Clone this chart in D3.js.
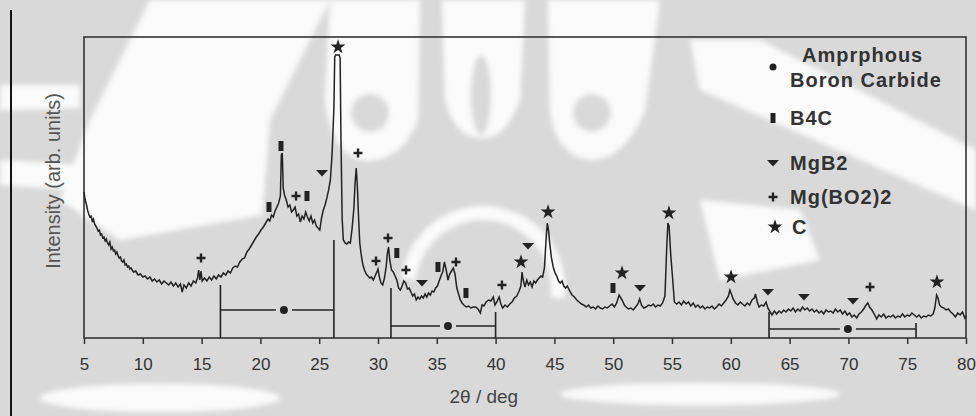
<!DOCTYPE html>
<html>
<head>
<meta charset="utf-8">
<script src="https://cdn.jsdelivr.net/npm/d3@7"></script>
<style>
  html, body { margin: 0; padding: 0; background: #d9d9d9; }
  svg { display: block; font-family: Arial, 'Liberation Sans', sans-serif; }
</style>
</head>
<body>
<div id="chart"></div>
<script>
'use strict';

// XRD pattern, [ 2theta (deg), intensity (arb. units) ]
var pattern = [
  [5.00,146],[5.10,138],[5.20,134],[5.30,128],[5.40,124],[5.50,121],[5.60,122],[5.70,117],[5.80,119],[5.90,114],
  [6.00,112],[6.10,110],[6.20,107],[6.30,108],[6.40,103],[6.50,104],[6.60,100],[6.70,101],[6.80,97],[6.90,99],
  [7.00,95],[7.10,93],[7.20,96],[7.30,89],[7.40,91],[7.50,87],[7.60,88],[7.70,84],[7.80,86],[7.90,82],
  [8.00,80],[8.10,81],[8.20,77],[8.30,76],[8.40,78],[8.50,73],[8.60,74],[8.70,71],[8.80,72],[8.90,69],
  [9.00,70],[9.20,66],[9.40,67],[9.60,63],[9.80,64],[10.00,61],[10.20,62],[10.40,59],[10.60,61],[10.80,57],
  [11.00,59],[11.20,56],[11.40,58],[11.60,54],[11.80,57],[12.00,55],[12.20,53],[12.40,56],[12.60,52],[12.80,55],
  [13.00,51],[13.20,54],[13.35,46],[13.50,53],[13.70,50],[13.90,55],[14.10,52],[14.30,57],[14.50,55],[14.65,60],
  [14.75,68],[14.85,58],[14.95,67],[15.05,57],[15.25,60],[15.45,57],[15.65,61],[15.85,58],[16.05,62],[16.25,59],
  [16.45,63],[16.65,61],[16.85,65],[17.05,63],[17.25,67],[17.45,65],[17.65,70],[17.85,72],[18.05,71],[18.25,76],
  [18.45,79],[18.65,80],[18.85,86],[19.05,89],[19.25,93],[19.45,97],[19.65,101],[19.85,104],[20.05,108],[20.25,111],
  [20.45,115],[20.65,119],[20.80,117],[20.95,123],[21.10,121],[21.25,127],[21.40,131],[21.55,135],[21.70,142],[21.78,183],
  [21.86,185],[21.94,150],[22.05,143],[22.20,138],[22.35,131],[22.50,133],[22.65,126],[22.80,128],[22.95,131],[23.10,122],
  [23.25,124],[23.40,116],[23.55,122],[23.70,119],[23.85,126],[24.00,121],[24.15,117],[24.30,122],[24.45,115],[24.60,118],
  [24.75,112],[24.90,110],[25.05,108],[25.20,120],[25.35,128],[25.50,133],[25.65,140],[25.80,148],[25.95,158],[26.10,185],
  [26.25,230],[26.32,281],[26.40,283],[26.70,283],[26.78,280],[26.85,200],[26.95,120],[27.05,98],[27.20,95],[27.35,94],[27.50,96],
  [27.65,95],[27.80,110],[27.95,130],[28.05,155],[28.15,170],[28.25,150],[28.35,120],[28.45,95],[28.55,85],[28.70,74],
  [28.85,68],[29.00,64],[29.15,62],[29.30,60],[29.45,61],[29.60,58],[29.75,62],[29.90,66],[30.00,69],[30.10,62],
  [30.25,55],[30.40,53],[30.55,60],[30.70,72],[30.80,85],[30.90,91],[31.00,78],[31.15,68],[31.30,66],[31.45,62],
  [31.60,58],[31.75,50],[31.90,48],[32.05,52],[32.20,57],[32.35,55],[32.50,49],[32.65,50],[32.80,46],[32.95,42],
  [33.10,44],[33.25,38],[33.40,41],[33.55,39],[33.70,42],[33.85,40],[34.00,44],[34.15,41],[34.30,45],[34.45,43],
  [34.60,47],[34.75,46],[34.90,50],[35.05,52],[35.20,57],[35.35,62],[35.50,66],[35.65,76],[35.80,68],[35.95,58],
  [36.10,64],[36.25,67],[36.40,70],[36.55,64],[36.70,50],[36.85,44],[37.00,38],[37.15,35],[37.30,33],[37.50,31],
  [37.70,32],[37.90,30],[38.10,31],[38.30,31],[38.50,29],[38.70,25],[38.85,33],[39.00,32],[39.20,36],[39.40,38],
  [39.60,37],[39.80,41],[39.95,33],[40.10,36],[40.30,41],[40.45,34],[40.60,30],[40.80,33],[41.00,31],[41.20,34],
  [41.40,36],[41.60,40],[41.80,42],[42.00,47],[42.15,52],[42.25,66],[42.35,58],[42.50,51],[42.65,58],[42.80,53],
  [42.95,56],[43.10,51],[43.25,57],[43.40,55],[43.55,58],[43.70,60],[43.85,62],[44.00,61],[44.15,70],[44.30,100],
  [44.40,115],[44.50,108],[44.60,95],[44.75,80],[44.90,71],[45.05,65],[45.20,62],[45.35,57],[45.50,55],[45.65,57],
  [45.80,52],[45.95,50],[46.10,52],[46.30,47],[46.50,43],[46.70,41],[46.90,38],[47.10,36],[47.30,34],[47.50,33],
  [47.70,31],[47.90,33],[48.10,30],[48.30,31],[48.50,29],[48.70,32],[48.90,30],[49.10,29],[49.30,31],[49.50,30],
  [49.70,32],[49.90,34],[50.10,31],[50.30,35],[50.50,43],[50.65,40],[50.80,37],[50.95,33],[51.10,31],[51.30,29],
  [51.50,30],[51.70,28],[51.90,31],[52.10,34],[52.25,39],[52.40,33],[52.60,30],[52.80,31],[53.00,33],[53.20,32],
  [53.40,34],[53.60,31],[53.80,33],[54.00,32],[54.20,35],[54.40,42],[54.55,90],[54.65,115],[54.75,112],[54.90,82],
  [55.05,60],[55.20,36],[55.40,34],[55.60,36],[55.80,33],[56.00,37],[56.20,34],[56.40,36],[56.60,32],[56.80,35],
  [57.00,31],[57.20,33],[57.40,30],[57.60,32],[57.80,29],[58.00,31],[58.20,30],[58.40,32],[58.60,29],[58.80,31],
  [59.00,34],[59.20,32],[59.40,35],[59.60,38],[59.80,42],[59.92,48],[60.05,44],[60.20,39],[60.40,35],[60.60,33],
  [60.80,36],[61.00,34],[61.20,32],[61.40,35],[61.60,33],[61.80,38],[62.00,40],[62.10,44],[62.25,36],[62.40,31],
  [62.60,33],[62.80,32],[63.00,36],[63.15,30],[63.35,26],[63.50,23],[63.70,27],[63.90,24],[64.10,27],[64.30,25],
  [64.50,28],[64.70,26],[64.90,29],[65.10,27],[65.30,30],[65.50,26],[65.70,29],[65.90,27],[66.10,31],[66.30,28],
  [66.50,30],[66.70,27],[66.90,29],[67.10,26],[67.30,28],[67.50,25],[67.70,27],[67.90,24],[68.10,28],[68.30,26],
  [68.50,27],[68.70,25],[68.90,29],[69.10,26],[69.30,28],[69.50,24],[69.70,27],[69.90,23],[70.10,25],[70.30,21],
  [70.50,23],[70.70,20],[70.90,24],[71.10,26],[71.30,29],[71.50,33],[71.65,35],[71.80,31],[72.00,28],[72.20,24],
  [72.40,19],[72.60,23],[72.80,21],[73.00,24],[73.20,20],[73.40,22],[73.60,21],[73.80,23],[74.00,20],[74.20,22],
  [74.40,21],[74.60,24],[74.80,21],[75.00,23],[75.20,22],[75.40,25],[75.60,23],[75.80,21],[76.00,23],[76.20,20],
  [76.40,22],[76.60,21],[76.80,23],[77.00,22],[77.20,24],[77.35,30],[77.50,43],[77.62,40],[77.75,33],[77.90,31],
  [78.10,30],[78.30,28],[78.50,29],[78.70,26],[78.90,24],[79.10,21],[79.30,25],[79.50,23],[79.70,26],[79.90,20],
  [80.00,22]
];

// phase markers, [ 2theta, marker height ]
var carbonPeaks = [ [26.6,291], [42.16,76], [44.46,126], [50.75,65], [54.74,125], [60.02,61], [77.53,56] ];
var b4cPeaks = [ [20.73,131], [21.75,192], [23.96,142], [31.6,85], [35.1,71], [37.48,45], [49.98,50] ];
var mgb2Peaks = [ [25.24,165], [33.74,55], [42.76,92], [52.28,50], [63.16,46], [66.22,41], [70.39,37] ];
var mgbo2Peaks = [ [14.95,80], [23.03,142], [28.3,185], [29.83,77], [30.85,100], [32.38,68], [36.63,76], [40.54,53], [71.84,51] ];

// amorphous boron carbide humps
var amorphousFrom = [ 16.6, 31.1, 63.25 ];
var amorphousTo = [ 26.25, 40.0, 75.75 ];
var amorphousMid = [ 22.0, 35.95, 69.96 ];
var amorphousLevel = [ 28, 12, 9 ];
var amorphousLeftTop = [ 53, 50, 26 ];
var amorphousRightTop = [ 98, 26, 15 ];

var xTicks = [ 5, 10, 15, 20, 25, 30, 35, 40, 45, 50, 55, 60, 65, 70, 75, 80 ];
var legendLabels = [ 'Amprphous', 'Boron Carbide', 'B4C', 'MgB2', 'Mg(BO2)2', 'C' ];

var baseWidth = 976,
    baseHeight = 416,
    margin = { top: 37, right: 10, bottom: 78, left: 84 },
    width = baseWidth - margin.left - margin.right,
    height = baseHeight - margin.top - margin.bottom,
    ink = '#222',
    paper = '#fafafa',
    shade = '#d9d9d9';

var x = d3.scaleLinear()
    .domain( [ 5, 80 ] )
    .range( [ 0, width ] );

var y = d3.scaleLinear()
    .domain( [ 0, height ] )
    .range( [ height, 0 ] );

var root = d3.select( '#chart' )
  .append( 'svg' )
    .attr( 'width', baseWidth )
    .attr( 'height', baseHeight );

// faint logo watermark behind the figure
root.append( 'defs' ).append( 'filter' )
    .attr( 'id', 'soft' )
  .append( 'feGaussianBlur' )
    .attr( 'stdDeviation', 2.5 );

var wm = root.append( 'g' ).attr( 'fill', paper ).attr( 'filter', 'url(#soft)' );
wm.append( 'rect' ).attr( 'width', baseWidth ).attr( 'height', baseHeight ).attr( 'fill', shade );
wm.append( 'path' ).attr( 'd', 'M150,0L330,0L300,60L270,120L262,215L120,240L60,200L90,120Z' );
wm.append( 'path' ).attr( 'd', 'M330,0L420,0L418,120Q400,165 360,160Q330,150 325,100Z' );
wm.append( 'path' ).attr( 'd', 'M442,0L525,0L520,100Q505,140 482,138Q455,138 445,100Z' );
wm.append( 'path' ).attr( 'd', 'M548,0L660,0L645,110Q625,160 590,160Q555,155 550,110Z' );
wm.append( 'circle' ).attr( 'cx', 370 ).attr( 'cy', 113 ).attr( 'r', 19 ).attr( 'fill', shade );
wm.append( 'ellipse' ).attr( 'cx', 481 ).attr( 'cy', 95 ).attr( 'rx', 10 ).attr( 'ry', 40 ).attr( 'fill', shade );
wm.append( 'circle' ).attr( 'cx', 592 ).attr( 'cy', 113 ).attr( 'r', 19 ).attr( 'fill', shade );
wm.append( 'path' )
    .attr( 'd', d3.arc()( { innerRadius: 68, outerRadius: 82, startAngle: -1.45, endAngle: 1.7 } ) )
    .attr( 'transform', 'translate(483,288)' );
wm.append( 'path' ).attr( 'd', 'M690,40L760,40L976,150L976,210L700,90Z' );
wm.append( 'path' ).attr( 'd', 'M700,200L800,210L820,260L720,280Z' );
wm.append( 'path' ).attr( 'd', 'M0,85L80,85L80,108L0,110Z' );
wm.append( 'path' ).attr( 'd', 'M0,160L80,165L80,190L0,185Z' );
wm.append( 'ellipse' ).attr( 'cx', 160 ).attr( 'cy', 398 ).attr( 'rx', 120 ).attr( 'ry', 14 );
wm.append( 'ellipse' ).attr( 'cx', 700 ).attr( 'cy', 394 ).attr( 'rx', 140 ).attr( 'ry', 11 );

// thin rule at far left
root.append( 'line' )
    .attr( 'x1', 11 ).attr( 'x2', 11 )
    .attr( 'y1', 10 ).attr( 'y2', baseHeight )
    .style( 'stroke', '#111' )
    .style( 'stroke-width', 2 );

var svg = root.append( 'g' )
    .attr( 'transform', 'translate( ' + margin.left + ',' + margin.top + ' )' );

// plot frame
svg.append( 'rect' )
    .attr( 'width', width )
    .attr( 'height', height )
    .style( 'fill', 'none' )
    .style( 'stroke', '#333' )
    .style( 'stroke-width', 1.6 );

// Add the X Axis
var xAxis = svg.append( 'g' )
    .attr( 'transform', 'translate(0,' + height + ')' )
    .call( d3.axisBottom( x )
      .tickValues( xTicks )
      .tickSize( 6 )
      .tickSizeOuter( 0 )
      .tickPadding( 14 )
    );
xAxis.select( '.domain' ).remove();
xAxis.selectAll( 'line' ).style( 'stroke', '#333' ).style( 'stroke-width', 1.5 );
xAxis.selectAll( 'text' )
    .style( 'font-size', '17px' )
    .style( 'fill', '#333' )
    .attr( 'font-family', 'Arial, Liberation Sans, sans-serif' );

// axis titles
svg.append( 'text' )
    .attr( 'x', x( 39 ) )
    .attr( 'y', height + 65 )
    .attr( 'text-anchor', 'middle' )
    .style( 'font-size', '19px' )
    .style( 'fill', '#444' )
    .text( '2θ / deg' );

svg.append( 'text' )
    .attr( 'transform', 'rotate(-90)' )
    .attr( 'x', -( 181 - margin.top ) )
    .attr( 'y', -24 )
    .attr( 'text-anchor', 'middle' )
    .style( 'font-size', '20px' )
    .style( 'fill', '#555' )
    .text( 'Intensity (arb. units)' );

// the pattern itself
var line = d3.line()
    .x( function( d ) { return x( d[0] ); } )
    .y( function( d ) { return y( d[1] ); } );

svg.append( 'path' )
    .attr( 'd', line( pattern ) )
    .style( 'fill', 'none' )
    .style( 'stroke', ink )
    .style( 'stroke-width', 1.5 )
    .style( 'stroke-linejoin', 'miter' );

// amorphous humps: bar, dot, bar
amorphousFrom.forEach( function( from, i ) {
  var g = svg.append( 'g' ).style( 'stroke', ink ).style( 'stroke-width', 1.6 );
  var ly = y( amorphousLevel[i] );
  g.append( 'line' ).attr( 'x1', x( from ) ).attr( 'x2', x( from ) )
    .attr( 'y1', y( amorphousLeftTop[i] ) ).attr( 'y2', height );
  g.append( 'line' ).attr( 'x1', x( amorphousTo[i] ) ).attr( 'x2', x( amorphousTo[i] ) )
    .attr( 'y1', y( amorphousRightTop[i] ) ).attr( 'y2', height );
  g.append( 'line' ).attr( 'x1', x( from ) ).attr( 'x2', x( amorphousMid[i] ) - 8 )
    .attr( 'y1', ly ).attr( 'y2', ly );
  g.append( 'line' ).attr( 'x1', x( amorphousMid[i] ) + 8 ).attr( 'x2', x( amorphousTo[i] ) )
    .attr( 'y1', ly ).attr( 'y2', ly );
  svg.append( 'circle' )
    .attr( 'cx', x( amorphousMid[i] ) ).attr( 'cy', ly ).attr( 'r', 4 )
    .style( 'fill', ink );
} );

// marker shapes
var starPath = d3.symbol().type( d3.symbolStar ).size( 68 )(),
    trianglePath = 'M-6,-3L6,-3L0,3.5Z',
    barPath = 'M-2.5,-5L2.5,-5L2.5,5L-2.5,5Z',
    plusPath = 'M-1.2,-4.5H1.2V-1.2H4.5V1.2H1.2V4.5H-1.2V1.2H-4.5V-1.2H-1.2Z';

function drawMarkers( peaks, path ) {
  svg.selectAll( null )
    .data( peaks )
    .enter()
    .append( 'path' )
      .attr( 'd', path )
      .attr( 'transform', function( d ) {
        return 'translate(' + x( d[0] ) + ',' + y( d[1] ) + ')';
      } )
      .style( 'fill', ink );
}

drawMarkers( carbonPeaks, starPath );
drawMarkers( b4cPeaks, barPath );
drawMarkers( mgb2Peaks, trianglePath );
drawMarkers( mgbo2Peaks, plusPath );

// add the legend
var legend = svg.append( 'g' )
    .attr( 'transform', 'translate(' + ( 773 - margin.left ) + ',0)' )
    .style( 'font-size', '20px' )
    .style( 'font-weight', 'bold' )
    .style( 'letter-spacing', '1px' )
    .style( 'fill', '#333' );

legend.append( 'circle' ).attr( 'cx', 0 ).attr( 'cy', 30 ).attr( 'r', 3.5 ).style( 'fill', ink );
legend.append( 'text' ).attr( 'x', 29 ).attr( 'y', 25 ).text( legendLabels[0] );
legend.append( 'text' ).attr( 'x', 17 ).attr( 'y', 50 ).text( legendLabels[1] );

var legendRows = [ [ barPath, legendLabels[2], 81 ], [ trianglePath, legendLabels[3], 126 ],
                   [ plusPath, legendLabels[4], 160 ], [ starPath, legendLabels[5], 190 ] ];
legendRows.forEach( function( row, i ) {
  legend.append( 'path' )
    .attr( 'd', row[0] )
    .attr( 'transform', 'translate(' + ( i === 3 ? 2 : 0 ) + ',' + row[2] + ')' )
    .style( 'fill', ink );
  legend.append( 'text' )
    .attr( 'x', i === 3 ? 19 : 17 )
    .attr( 'y', row[2] + 7 )
    .text( row[1] );
} );
</script>
</body>
</html>
